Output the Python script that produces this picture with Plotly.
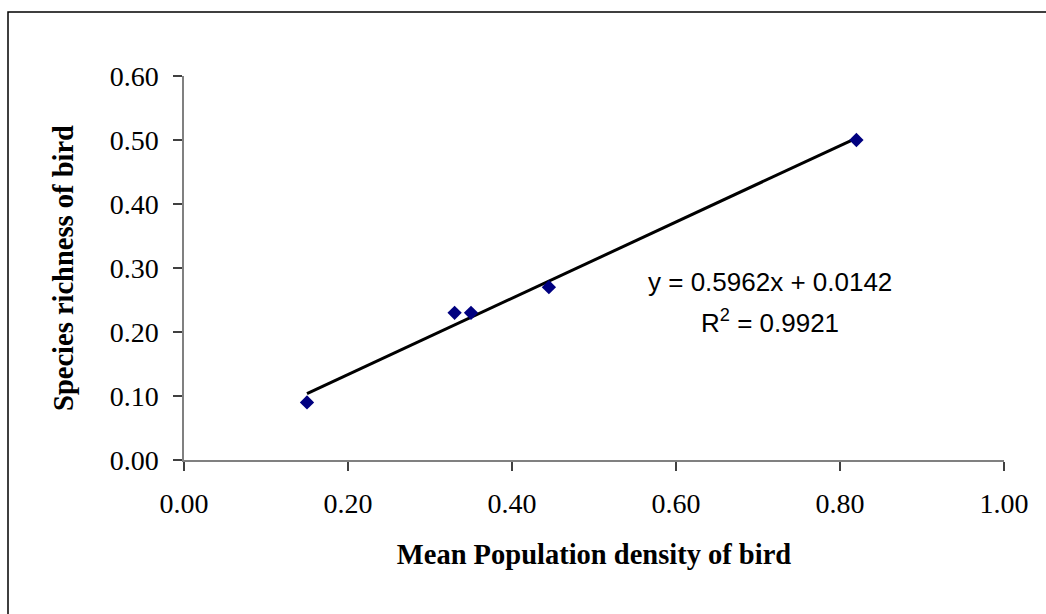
import plotly.graph_objects as go

# Bird survey: mean population density vs species richness
density = [0.15, 0.33, 0.35, 0.445, 0.82]
richness = [0.09, 0.23, 0.23, 0.27, 0.50]

# Linear trendline coefficients (as shown in the equation label)
slope = 0.5962
intercept = 0.0142
r_squared = 0.9921

x_ticks = [0.0, 0.2, 0.4, 0.6, 0.8, 1.0]
y_ticks = [0.0, 0.1, 0.2, 0.3, 0.4, 0.5, 0.6]

fit_x = [min(density), max(density)]
fit_y = [slope * v + intercept for v in fit_x]

W, H = 1046, 614
L, R, T, B = 184, 42, 76, 154
plot_w = W - L - R
plot_h = H - T - B


def px_to_paper_x(px):
    return (px - L) / plot_w


def px_to_paper_y(py):
    return (H - B - py) / plot_h


fig = go.Figure()
fig.add_trace(go.Scatter(
    x=fit_x, y=fit_y, mode="lines",
    line=dict(color="black", width=3),
    hoverinfo="skip", showlegend=False,
))
fig.add_trace(go.Scatter(
    x=density, y=richness, mode="markers",
    marker=dict(symbol="diamond", color="#000080", size=11),
    showlegend=False,
))

serif = "Liberation Serif, Times New Roman, serif"
sans = "Liberation Sans, Arial, sans-serif"

fig.update_layout(
    width=W, height=H,
    margin=dict(l=L, r=R, t=T, b=B),
    paper_bgcolor="white", plot_bgcolor="white",
    font=dict(family=serif, size=28, color="black"),
    xaxis=dict(
        range=[0, 1.0], tickvals=x_ticks, tickformat=".2f",
        showgrid=False, zeroline=False,
        showline=True, linecolor="#808080", linewidth=1.5,
        ticks="outside", ticklen=9, tickcolor="#404040", tickwidth=1.5,
        ticklabelstandoff=9,
        tickfont=dict(family=serif, size=28),
        title=dict(text="<b>Mean Population density of bird</b>",
                   font=dict(family=serif, size=28.5), standoff=26),
    ),
    yaxis=dict(
        range=[0, 0.6], tickvals=y_ticks, tickformat=".2f",
        showgrid=False, zeroline=False,
        showline=True, linecolor="#808080", linewidth=1.5,
        ticks="outside", ticklen=9, tickcolor="#404040", tickwidth=1.5,
        ticklabelstandoff=9,
        tickfont=dict(family=serif, size=28),
        title=dict(text="<b>Species richness of bird</b>",
                   font=dict(family=serif, size=28.5), standoff=28),
    ),
    shapes=[dict(
        type="rect", xref="paper", yref="paper",
        x0=px_to_paper_x(8), x1=px_to_paper_x(1070),
        y0=px_to_paper_y(640), y1=px_to_paper_y(12),
        line=dict(color="black", width=1.5), fillcolor="rgba(0,0,0,0)",
        layer="below",
    )],
    annotations=[
        dict(x=px_to_paper_x(770), y=px_to_paper_y(282), xref="paper", yref="paper",
             text=f"y = {slope:.4f}x + {intercept:.4f}", showarrow=False,
             font=dict(family=sans, size=26, color="black"),
             xanchor="center", yanchor="middle"),
        dict(x=px_to_paper_x(770), y=px_to_paper_y(321), xref="paper", yref="paper",
             text=f"R<sup>2</sup> = {r_squared:.4f}", showarrow=False,
             font=dict(family=sans, size=26, color="black"),
             xanchor="center", yanchor="middle"),
    ],
)

fig.write_html("out.html")
